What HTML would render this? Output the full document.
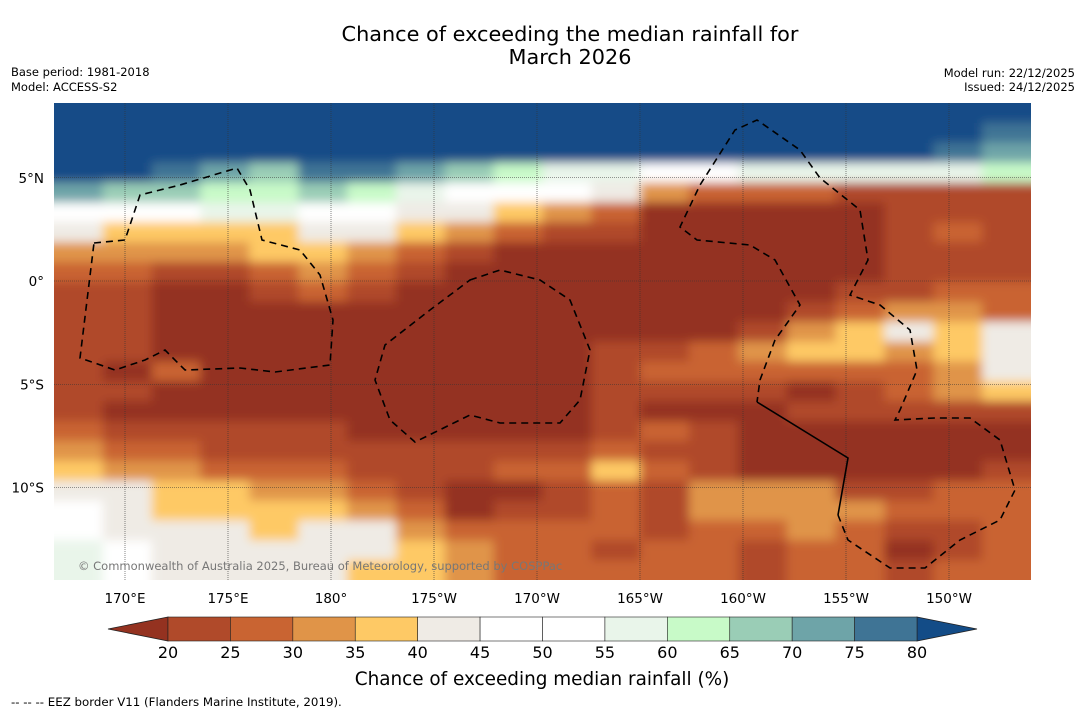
<!DOCTYPE html>
<html><head><meta charset="utf-8"><title>Chance of exceeding the median rainfall</title>
<style>
html,body{margin:0;padding:0;background:#fff;}
body{width:1085px;height:713px;overflow:hidden;font-family:"DejaVu Sans","Liberation Sans",sans-serif;}
svg text{font-family:"DejaVu Sans","Liberation Sans",sans-serif;}
</style></head>
<body>
<svg id="chart" width="1085" height="713" viewBox="0 0 1085 713" xmlns="http://www.w3.org/2000/svg">
<defs>
<clipPath id="mapclip"><rect x="54" y="103" width="977" height="477"/></clipPath>
<filter id="soft" filterUnits="userSpaceOnUse" x="20" y="70" width="1045" height="545"><feGaussianBlur stdDeviation="5"/></filter>
</defs>
<text x="570" y="41" text-anchor="middle" font-size="20.8" fill="#000">Chance of exceeding the median rainfall for</text>
<text x="570" y="64" text-anchor="middle" font-size="20.8" fill="#000">March 2026</text>
<text x="11" y="76" font-size="11.5">Base period: 1981-2018</text>
<text x="11" y="91" font-size="11.5">Model: ACCESS-S2</text>
<text x="1075" y="77" font-size="11.5" text-anchor="end">Model run: 22/12/2025</text>
<text x="1075" y="91" font-size="11.5" text-anchor="end">Issued: 24/12/2025</text>
<g clip-path="url(#mapclip)">
<g id="cells" filter="url(#soft)"></g>
<g id="grid"></g>
<g id="eez" fill="none" stroke="#000" stroke-width="1.6">
<path stroke-dasharray="7,5" d="M94,243 L125,240 L140,195 L180,185 L237,168 L250,190 L262,240 L300,250 L320,275 L333,320 L330,365 L275,372 L240,368 L185,370 L165,350 L145,360 L115,370 L80,358 Z"/>
<path stroke-dasharray="7,5" d="M470,280 L500,270 L540,280 L570,300 L590,350 L580,400 L560,423 L500,423 L470,415 L415,442 L390,420 L375,380 L385,345 L430,310 Z"/>
<path stroke-dasharray="7,5" d="M838,515 L848,540 L890,568 L925,568 L960,540 L1000,520 L1015,490 L1000,440 L970,418 L935,418 L895,420 L900,410 L917,370 L910,330 L880,305 L850,295 L868,260 L860,210 L820,178 L800,150 L757,120 L735,130 L700,185 L680,227 L697,240 L750,245 L775,260 L800,305 L775,340 L760,380 L757,402"/>
<path d="M757,402 L848,458 L838,515"/>
</g>
<text x="78" y="570" font-size="11.5" fill="#777">© Commonwealth of Australia 2025, Bureau of Meteorology, supported by COSPPac</text>
</g>
<g id="xlabels"></g>
<g id="ylabels"></g>
<g id="cbar"></g>
<text x="542" y="685" font-size="18.4" text-anchor="middle">Chance of exceeding median rainfall (%)</text>
<text x="11" y="706" font-size="11.8">--  --  -- EEZ border V11 (Flanders Marine Institute, 2019).</text>
</svg>
<script>
const NS='http://www.w3.org/2000/svg';
const levelColors=['#943220','#b04a2a','#c96432','#e09448','#fec965','#efebe5','#ffffff','#ffffff','#e9f5ea','#c8fac8','#9acdb6','#6ea4a8','#3f7495','#134c87'];
const levelTicks=[20,25,30,35,40,45,50,55,60,65,70,75,80];
const lonTicks=[170,175,180,185,190,195,200,205,210];
const lonLabels=['170°E','175°E','180°','175°W','170°W','165°W','160°W','155°W','150°W'];
const latTicks=[5,0,-5,-10];
const latLabels=['5°N','0°','5°S','10°S'];
const row00=[13,13,13,13,13,13,13,13,13,13,13,13,13,13,13,13,13,13,13,13];
const row01=[13,13,13,13,13,13,13,13,13,13,13,13,13,13,13,13,13,13,13,12];
const row02=[13,13,13,13,13,13,13,13,13,13,13,13,13,13,13,13,13,13,12,11];
const row03=[13,13,12,11,10,12,12,11,10,9,8,8,7,7,8,8,8,8,8,9];
const row04=[11,10,10,9,9,10,9,8,7,7,6,5,3,2,2,2,1,1,1,1];
const row05=[7,7,7,8,8,7,6,5,5,4,3,2,0,0,0,0,0,1,1,1];
const row06=[5,4,4,4,4,5,5,4,3,2,1,1,0,0,0,0,0,1,2,1];
const row07=[3,3,3,3,4,4,3,2,1,0,0,0,0,0,0,0,0,1,1,1];
const row08=[2,2,1,1,2,3,2,1,0,0,0,0,0,0,0,0,0,1,1,1];
const row09=[1,1,0,0,1,2,1,0,0,0,0,0,0,0,0,0,1,1,2,2];
const row10=[1,1,0,0,0,0,0,0,0,0,0,0,0,0,0,1,2,3,3,2];
const row11=[1,1,0,0,0,0,0,0,0,0,0,0,0,0,1,3,4,5,4,5];
const row12=[1,1,0,0,0,0,0,0,0,0,0,1,1,2,3,4,4,3,4,5];
const row13=[1,0,2,0,0,0,0,0,0,0,0,1,2,2,2,2,2,2,3,5];
const row14=[1,1,0,0,0,0,0,0,0,0,0,1,1,1,1,0,1,2,3,4];
const row15=[1,0,0,0,0,0,0,0,0,0,0,1,0,0,0,1,1,1,1,1];
const row16=[2,1,1,1,1,1,0,0,0,0,0,1,2,1,0,0,0,0,0,0];
const row17=[3,2,2,1,1,1,1,1,1,1,1,2,1,1,0,0,0,0,0,0];
const row18=[4,3,3,2,2,2,1,1,1,2,2,4,2,1,0,0,0,0,0,1];
const row19=[5,5,4,4,3,3,2,1,0,0,1,2,1,3,3,3,1,1,2,2];
const row20=[6,5,4,4,4,4,3,2,0,1,1,2,1,3,3,3,3,2,2,2];
const row21=[6,5,5,5,4,5,5,3,2,2,2,2,1,2,2,3,2,1,1,2];
const row22=[8,6,5,5,5,5,5,4,3,2,2,1,2,2,1,2,2,0,1,2];
const row23=[8,6,5,5,5,5,4,4,3,2,2,2,2,2,1,2,2,1,2,2];
const gridRows=[row00,row01,row02,row03,row04,row05,row06,row07,row08,row09,row10,row11,row12,row13,row14,row15,row16,row17,row18,row19,row20,row21,row22,row23];

const mapX=54,mapY=103,mapW=977,mapH=477,pad=25;
function lonToX(lon){return 125+(lon-170)*20.6;}
function latToY(lat){return 281-lat*20.65;}

const cells=document.getElementById('cells');
const nR=gridRows.length;
gridRows.forEach((row,ri)=>{
  const nC=row.length;
  row.forEach((v,ci)=>{
    const r=document.createElementNS(NS,'rect');
    let x0=mapX+ci*mapW/nC, y0=mapY+ri*mapH/nR;
    let w=mapW/nC+0.6, h=mapH/nR+0.6;
    if(ci===0){x0-=pad;w+=pad;}
    if(ci===nC-1){w+=pad;}
    if(ri===0){y0-=pad;h+=pad;}
    if(ri===nR-1){h+=pad;}
    r.setAttribute('x',x0.toFixed(2));
    r.setAttribute('y',y0.toFixed(2));
    r.setAttribute('width',w.toFixed(2));
    r.setAttribute('height',h.toFixed(2));
    r.setAttribute('fill',levelColors[v]);
    
    
    cells.appendChild(r);
  });
});

const grid=document.getElementById('grid');
const xl=document.getElementById('xlabels');
lonTicks.forEach((lon,i)=>{
  const x=lonToX(lon);
  const l=document.createElementNS(NS,'line');
  l.setAttribute('x1',x);l.setAttribute('x2',x);l.setAttribute('y1',mapY);l.setAttribute('y2',mapY+mapH);
  l.setAttribute('stroke','#333');l.setAttribute('stroke-width','0.6');l.setAttribute('stroke-dasharray','1,1');
  
  
  grid.appendChild(l);
  const t=document.createElementNS(NS,'text');
  t.setAttribute('x',x);t.setAttribute('y',603);t.setAttribute('text-anchor','middle');t.setAttribute('font-size','13.5');
  t.textContent=lonLabels[i];
  
  
  xl.appendChild(t);
});
const yl=document.getElementById('ylabels');
latTicks.forEach((lat,i)=>{
  const y=latToY(lat);
  const l=document.createElementNS(NS,'line');
  l.setAttribute('x1',mapX);l.setAttribute('x2',mapX+mapW);l.setAttribute('y1',y);l.setAttribute('y2',y);
  l.setAttribute('stroke','#333');l.setAttribute('stroke-width','0.6');l.setAttribute('stroke-dasharray','1,1');
  
  
  grid.appendChild(l);
  const t=document.createElementNS(NS,'text');
  t.setAttribute('x',44);t.setAttribute('y',y+5);t.setAttribute('text-anchor','end');t.setAttribute('font-size','13.5');
  t.textContent=latLabels[i];
  
  
  yl.appendChild(t);
});

const cb=document.getElementById('cbar');
const cbX0=168,cbX1=917,cbY=617,cbH=24;
function levelToX(v){return cbX0+(v-levelTicks[0])/(levelTicks[levelTicks.length-1]-levelTicks[0])*(cbX1-cbX0);}
const lt=document.createElementNS(NS,'polygon');
lt.setAttribute('points',`${cbX0},${cbY} ${108},${cbY+cbH/2} ${cbX0},${cbY+cbH}`);
lt.setAttribute('fill',levelColors[0]);lt.setAttribute('stroke','#222');lt.setAttribute('stroke-width','0.8');


cb.appendChild(lt);
const rt=document.createElementNS(NS,'polygon');
rt.setAttribute('points',`${cbX1},${cbY} ${977},${cbY+cbH/2} ${cbX1},${cbY+cbH}`);
rt.setAttribute('fill',levelColors[13]);rt.setAttribute('stroke','#222');rt.setAttribute('stroke-width','0.8');


cb.appendChild(rt);
for(let i=0;i<levelTicks.length-1;i++){
  const r=document.createElementNS(NS,'rect');
  const x=levelToX(levelTicks[i]);
  r.setAttribute('x',x);r.setAttribute('y',cbY);r.setAttribute('width',levelToX(levelTicks[i+1])-x);r.setAttribute('height',cbH);
  r.setAttribute('fill',levelColors[i+1]);r.setAttribute('stroke','#222');r.setAttribute('stroke-width','0.6');
  
  
  cb.appendChild(r);
}
levelTicks.forEach(v=>{
  const t=document.createElementNS(NS,'text');
  t.setAttribute('x',levelToX(v));t.setAttribute('y',658);t.setAttribute('text-anchor','middle');t.setAttribute('font-size','16');
  t.textContent=v;
  
  
  cb.appendChild(t);
});
</script>
</body></html>
